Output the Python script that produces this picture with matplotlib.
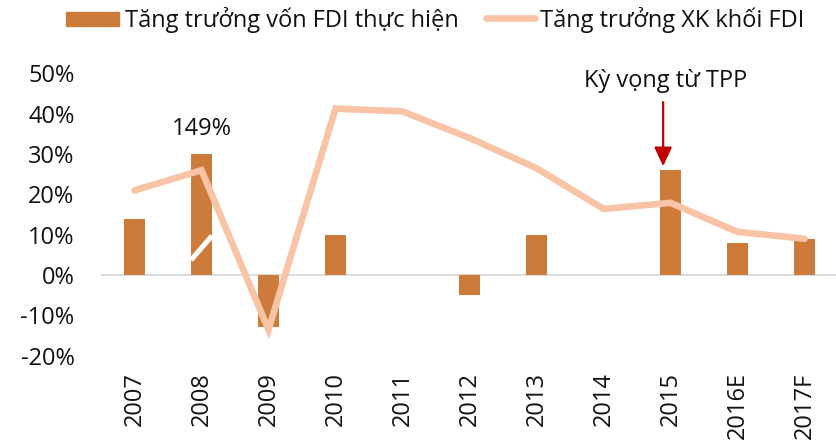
import matplotlib
matplotlib.use("Agg")
import matplotlib.pyplot as plt
from matplotlib.patches import Rectangle
from matplotlib.lines import Line2D

years = ["2007", "2008", "2009", "2010", "2011", "2012", "2013", "2014", "2015", "2016E", "2017F"]
fdi_capital = [14, 30, -13, 10, 0, -5, 10, 0, 26, 8, 9]   # 2008 bar truncated (actual 149%)
fdi_export = [21, 26, -13.6, 41.3, 40.6, 34, 26.5, 16.4, 17.9, 10.7, 9]
yticks = [-20, -10, 0, 10, 20, 30, 40, 50]
legend_labels = ["Tăng trưởng vốn FDI thực hiện", "Tăng trưởng XK khối FDI"]

BAR_C = "#CC7B3A"
LINE_C = "#F9C3A6"
TXT_C = "#111111"
plt.rcParams["font.family"] = ["Open Sans", "DejaVu Sans"]
FS = 17
W, H = 836, 441

fig = plt.figure(figsize=(W / 100, H / 100), dpi=100)
ax = fig.add_axes([101 / W, 1 - 355.6 / H, 737 / W, (355.6 - 73.5) / H])
x = list(range(len(years)))

ax.bar(x, fdi_capital, width=0.31, color=BAR_C, zorder=2)
ax.plot(x, fdi_export, color=LINE_C, lw=4.8, solid_capstyle="round",
        solid_joinstyle="miter", zorder=3)
ax.axhline(0, color="#D9D9D9", lw=1.3, zorder=1)

# break mark on truncated 2008 bar
ax.plot([0.843, 1.157], [3.7, 9.75], color="white", lw=3.6, zorder=2.5,
        solid_capstyle="butt")
ax.text(1.01, 34.7, "149%", ha="center", va="baseline", fontsize=FS, color=TXT_C)

# annotation
ax.annotate("", xy=(7.89, 27.0), xytext=(7.89, 42.9),
            arrowprops=dict(arrowstyle="-|>,head_width=0.54,head_length=1.15",
                            color="#C00000", lw=1.6, mutation_scale=10,
                            shrinkA=0, shrinkB=0))
ax.text(7.93, 46.65, "Kỳ vọng từ TPP", ha="center", va="baseline", fontsize=FS,
        color=TXT_C, clip_on=False)

ax.set_xlim(-0.5, 10.5)
ax.set_ylim(-20, 50)
ax.set_yticks(yticks)
ax.set_yticklabels([f"{v}%" for v in yticks], fontsize=FS, color=TXT_C)
ax.set_xticks(x)
ax.set_xticklabels(years, rotation=90, fontsize=FS, color=TXT_C)
ax.tick_params(length=0)
ax.tick_params(axis="x", pad=12)
ax.tick_params(axis="y", pad=19)
for s in ax.spines.values():
    s.set_visible(False)

# legend (figure pixel coordinates)
fig.add_artist(Rectangle((66 / W, 1 - 26 / H), (119 - 66) / W, 14 / H,
                         transform=fig.transFigure, color=BAR_C))
fig.text(125 / W, 1 - 27 / H, legend_labels[0], ha="left", va="baseline",
         fontsize=FS, color=TXT_C)
fig.add_artist(Line2D([486 / W, 535 / W], [1 - 18 / H, 1 - 18 / H],
                      transform=fig.transFigure, color=LINE_C, lw=4.8,
                      solid_capstyle="round"))
fig.text(540 / W, 1 - 27 / H, legend_labels[1], ha="left", va="baseline",
         fontsize=FS, color=TXT_C)

fig.savefig("out.png", dpi=100)
